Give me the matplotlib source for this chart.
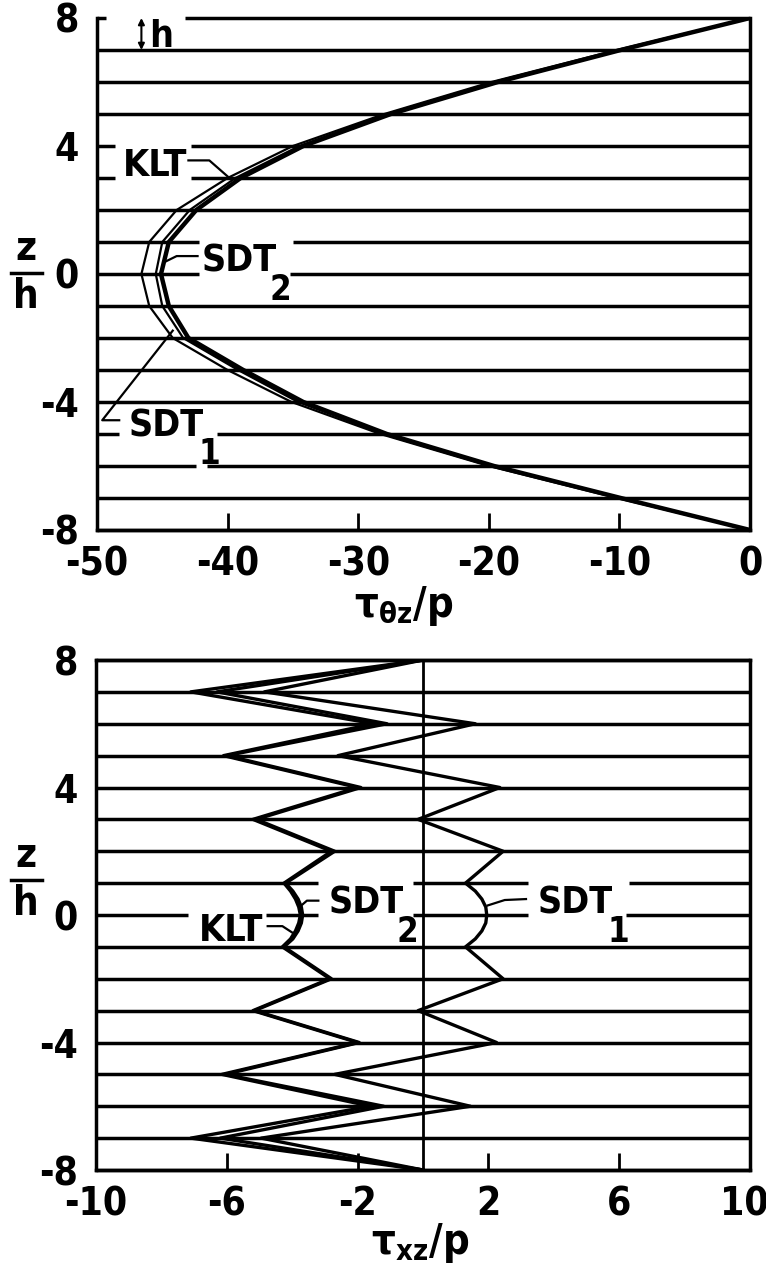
import matplotlib.pyplot as plt
import matplotlib.transforms as mtransforms
from matplotlib.lines import Line2D

plt.rcParams['font.family'] = ['DejaVu Sans']
plt.rcParams['font.stretch'] = 'condensed'
plt.rcParams['font.weight'] = 'bold'
plt.rcParams['mathtext.fontset'] = 'custom'
plt.rcParams['mathtext.rm'] = 'DejaVu Sans:weight=bold:stretch=condensed'
plt.rcParams['mathtext.it'] = 'DejaVu Sans:weight=bold:stretch=condensed'
plt.rcParams['mathtext.default'] = 'rm'

# layer interfaces, z/h
z = [8, 7, 6, 5, 4, 3, 2, 1, 0, -1, -2, -3, -4, -5, -6, -7, -8]

# upper plot: tau_theta_z / p at each interface
klt_tz = [0, -10.2, -19.8, -28.0, -35.0, -40.0, -43.9, -46.0, -46.6, -46.0, -44.2, -40.0, -35.1, -28.3, -20.0, -10.2, 0]
sdt1_tz = [0, -10.0, -19.5, -27.7, -34.5, -39.4, -42.9, -45.0, -45.5, -45.0, -43.4, -39.2, -34.6, -28.0, -19.8, -10.0, 0]
sdt2_tz = [0, -9.9, -19.3, -27.5, -34.2, -39.0, -42.4, -44.5, -45.1, -44.5, -43.0, -38.8, -34.2, -27.8, -19.6, -9.9, 0]

# lower plot: tau_xz / p (middle layer read at quarter steps, it is curved)
z_xz = [8, 7, 6, 5, 4, 3, 2, 1, 0.75, 0.5, 0.25, 0, -0.25, -0.5, -0.75, -1, -2, -3, -4, -5, -6, -7, -8]
klt_xz = [0, -7.1, -1.5, -6.1, -2.0, -5.2, -2.8, -4.25, -4.05, -3.9, -3.8, -3.75, -3.8, -3.9, -4.05, -4.3,
          -2.85, -5.2, -2.0, -6.15, -1.6, -7.1, 0]
sdt2_xz = [0, -6.3, -1.1, -6.0, -1.9, -5.1, -2.7, -4.2, -3.98, -3.82, -3.72, -3.68, -3.72, -3.82, -3.98, -4.25,
           -2.8, -5.15, -1.95, -6.05, -1.2, -6.2, 0]
sdt1_xz = [0, -4.85, 1.6, -2.6, 2.35, -0.15, 2.45, 1.3, 1.6, 1.8, 1.92, 1.95, 1.92, 1.8, 1.6, 1.3,
           2.45, -0.15, 2.25, -2.7, 1.45, -4.95, 0]

tz_ticks = [-50, -40, -30, -20, -10, 0]
tz_labels = ['-50', '-40', '-30', '-20', '-10', '0']
xz_ticks = [-10, -6, -2, 2, 6, 10]
xz_labels = ['-10', '-6', '-2', '2', '6', '10']
z_ticks = [8, 4, 0, -4, -8]
z_labels = ['8', '4', '0', '-4', '-8']

W, H = 766, 1282
fig = plt.figure(figsize=(W / 100, H / 100), dpi=100)
ax1 = fig.add_axes([97 / W, 1 - 530 / H, 653 / W, 512 / H])
ax2 = fig.add_axes([96 / W, 1 - 1170 / H, 654 / W, 510 / H])

LW = 2.5


def layer_lines(ax, xmin, xmax, gaps):
    # horizontal interface lines, broken where a label sits
    for zz in z:
        cuts = sorted(gaps.get(zz, []))
        start = xmin
        for a, b in cuts:
            ax.plot([start, a], [zz, zz], color='black', lw=LW, zorder=2, clip_on=False,
                    solid_capstyle='butt')
            start = b
        ax.plot([start, xmax], [zz, zz], color='black', lw=LW, zorder=2, clip_on=False,
                solid_capstyle='butt')


def style(ax, xlim, ticks, labels):
    ax.set_xlim(*xlim)
    ax.set_ylim(-8, 8)
    ax.set_xticks(ticks)
    ax.set_xticklabels(labels)
    ax.set_yticks(z_ticks)
    ax.set_yticklabels(z_labels)
    ax.tick_params(axis='x', direction='in', length=12, width=2, pad=11, labelsize=28)
    ax.tick_params(axis='y', length=0, pad=13, labelsize=28)
    for s in ax.spines.values():
        s.set_linewidth(LW)


# ---------------- upper plot ----------------
style(ax1, (-50, 0), tz_ticks, tz_labels)
ax1.spines['top'].set_visible(False)
layer_lines(ax1, -50, 0, {8: [(-49.3, -43.3)], 4: [(-48.6, -42.8)], 3: [(-48.6, -42.8)],
                          1: [(-42.2, -35.0)], 0: [(-42.2, -35.2)],
                          -5: [(-48.3, -40.8)], -6: [(-42.4, -41.6)]})
ax1.plot(klt_tz, z, color='black', lw=1.6, zorder=4)
ax1.plot(sdt1_tz, z, color='black', lw=1.6, zorder=4)
ax1.plot(sdt2_tz, z, color='black', lw=3.2, zorder=4)

ax1.annotate('', xy=(-46.6, 8), xytext=(-46.6, 7),
             arrowprops=dict(arrowstyle='<|-|>', lw=1.5, color='black', mutation_scale=9,
                             shrinkA=0, shrinkB=0))
ax1.text(-46.0, 7.08, 'h', fontsize=27, ha='left', va='baseline')

ax1.text(-48.0, 3.05, 'KLT', fontsize=27, ha='left', va='baseline')
ax1.plot([-43.0, -41.4, -40.0], [3.55, 3.55, 3.05], color='black', lw=1.6)

ax1.text(-42.0, 0.08, 'SDT', fontsize=27, ha='left', va='baseline')
ax1.text(-36.8, -0.82, '2', fontsize=25, ha='left', va='baseline')
ax1.plot([-44.7, -43.9, -42.3], [0.4, 0.56, 0.56], color='black', lw=1.6)

ax1.text(-47.6, -5.08, 'SDT', fontsize=27, ha='left', va='baseline')
ax1.text(-42.2, -5.94, '1', fontsize=25, ha='left', va='baseline')
ax1.plot([-48.3, -49.6, -44.2], [-4.57, -4.57, -1.77], color='black', lw=1.6)

ax1.set_xlabel(r'$\tau_{\theta z}/p$', fontsize=30)
ax1.xaxis.set_label_coords(0.47, -0.105)

# ---------------- lower plot ----------------
style(ax2, (-10, 10), xz_ticks, xz_labels)
# keep the last tick label inside the picture
last = ax2.get_xticklabels()[-1]
last.set_transform(last.get_transform() + mtransforms.ScaledTranslation(-6 / 100, 0, fig.dpi_scale_trans))

layer_lines(ax2, -10, 10, {0: [(-7.2, -4.8), (-3.2, -0.3), (3.2, 6.2)],
                           1: [(-3.2, -0.3), (3.2, 6.3)]})
ax2.axvline(0, color='black', lw=2.0, zorder=2)
ax2.plot(klt_xz, z_xz, color='black', lw=2.4, zorder=4)
ax2.plot(sdt2_xz, z_xz, color='black', lw=2.4, zorder=4)
ax2.plot(sdt1_xz, z_xz, color='black', lw=2.4, zorder=4)

ax2.text(-6.85, -0.82, 'KLT', fontsize=27, ha='left', va='baseline')
ax2.plot([-4.75, -4.3, -4.0], [-0.35, -0.35, -0.55], color='black', lw=1.6)

ax2.text(-2.9, 0.05, 'SDT', fontsize=27, ha='left', va='baseline')
ax2.text(-0.8, -0.84, '2', fontsize=25, ha='left', va='baseline')
ax2.plot([-3.2, -3.55, -3.72], [0.45, 0.45, 0.3], color='black', lw=1.6)

ax2.text(3.5, 0.05, 'SDT', fontsize=27, ha='left', va='baseline')
ax2.text(5.65, -0.84, '1', fontsize=25, ha='left', va='baseline')
ax2.plot([3.15, 2.5, 1.98], [0.5, 0.47, 0.3], color='black', lw=1.6)

ax2.set_xlabel(r'$\tau_{xz}/p$', fontsize=30)
ax2.xaxis.set_label_coords(0.495, -0.1)

# z/h fractions on the left
for ybar in [273, 880]:
    fig.text(26 / W, 1 - (ybar - 4) / H, 'z', fontsize=29, ha='center', va='bottom')
    fig.text(26 / W, 1 - (ybar + 4) / H, 'h', fontsize=29, ha='center', va='top')
    fig.add_artist(Line2D([11 / W, 42 / W], [1 - ybar / H, 1 - ybar / H], color='black', lw=2.5))

fig.savefig('out.png', dpi=100, facecolor='white')
